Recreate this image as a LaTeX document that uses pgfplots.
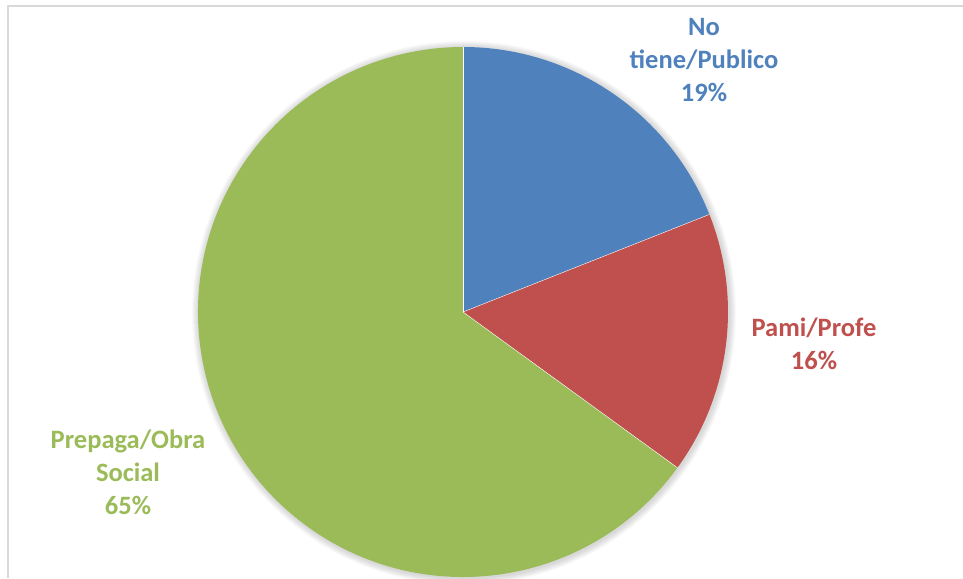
\documentclass[border=0pt]{standalone}
\usepackage{pgfplots}
\usepackage{pgfplotstable}
\pgfplotsset{compat=1.18}
\usepackage{fontspec}
\setmainfont{Carlito}
\definecolor{sblue}{HTML}{4F81BD}
\definecolor{sred}{HTML}{C0504D}
\definecolor{sgreen}{HTML}{9BBB59}
\definecolor{frame}{HTML}{D9D9D9}
\pgfplotstableread{
label value
NoTiene 19
Pami 16
Prepaga 65
}\piedata
\pgfplotstablegetelem{0}{value}\of\piedata \let\va\pgfplotsretval
\pgfplotstablegetelem{1}{value}\of\piedata \let\vb\pgfplotsretval
\pgfplotstablegetelem{2}{value}\of\piedata \let\vc\pgfplotsretval
\pgfmathsetmacro{\tot}{\va+\vb+\vc}
\pgfmathsetmacro{\aA}{90}
\pgfmathsetmacro{\aB}{90-\va/\tot*360}
\pgfmathsetmacro{\aC}{\aB-\vb/\tot*360}
\pgfmathsetmacro{\aD}{\aC-\vc/\tot*360}
\begin{document}
\begin{tikzpicture}
\begin{axis}[
  width=963pt, height=578pt, scale only axis,
  xmin=0, xmax=963, ymin=0, ymax=578,
  hide axis, clip=false,
]
% frame
\draw[frame, line width=2pt] (axis cs:8,0) -- (axis cs:8,572) -- (axis cs:963,572);
% soft shadow
\pgfplotsinvokeforeach{266,267,268,269,270,271,272}{
  \fill[black, opacity=0.025] (axis cs:464,265) circle[radius=#1pt];
}
\fill[sblue] (axis cs:463,266) -- ++(\aA:265pt) arc[start angle=\aA, end angle=\aB, radius=265pt] -- cycle;
\fill[sred] (axis cs:463,266) -- ++(\aB:265pt) arc[start angle=\aB, end angle=\aC, radius=265pt] -- cycle;
\fill[sgreen] (axis cs:463,266) -- ++(\aC:265pt) arc[start angle=\aC, end angle=\aD, radius=265pt] -- cycle;
\draw[white, line width=0.4pt] (axis cs:463,266) -- ++(\aA:265pt);
\draw[white, line width=0.4pt] (axis cs:463,266) -- ++(\aB:265pt);
\draw[white, line width=0.4pt] (axis cs:463,266) -- ++(\aC:265pt);
\node[align=center, text=sblue, font=\fontsize{26.5}{33}\selectfont\bfseries] at (axis cs:704,518) {No\\tiene/Publico\\\va\%};
\node[align=center, text=sred, font=\fontsize{26.5}{33}\selectfont\bfseries] at (axis cs:814,234) {Pami/Profe\\\vb\%};
\node[align=center, text=sgreen, font=\fontsize{26.5}{33}\selectfont\bfseries] at (axis cs:128,106) {Prepaga/Obra\\Social\\\vc\%};
\end{axis}
\pgfresetboundingbox
\path (0,0) rectangle (963pt,578pt);
\end{tikzpicture}
\end{document}
